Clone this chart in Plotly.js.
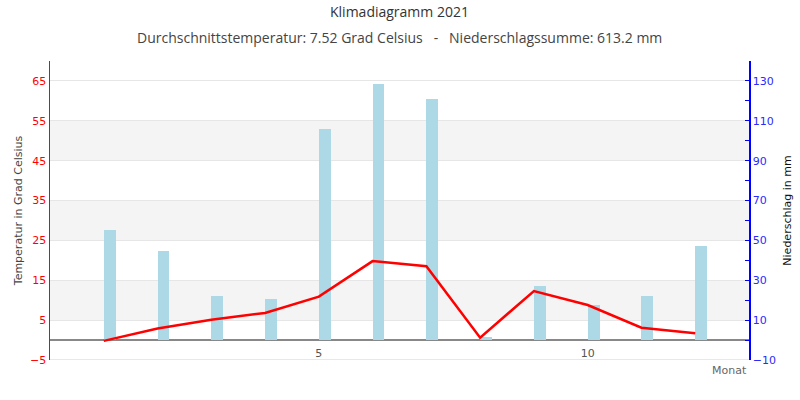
<!DOCTYPE html>
<html>
<head>
<meta charset="utf-8">
<script src="https://cdn.plot.ly/plotly-3.0.1.min.js"></script>
<style>html,body{margin:0;padding:0;background:#fff}#chart{width:800px;height:400px}</style>
</head>
<body>
<div id="chart"></div>
<script>
const months = [1, 2, 3, 4, 5, 6, 7, 8, 9, 10, 11, 12];
const temperature = [-0.2, 2.9, 5.1, 6.8, 10.9, 19.8, 18.5, 0.6, 12.3, 8.8, 3.1, 1.7];
const precipitation = [55.2, 44.6, 22.1, 20.6, 105.8, 128.7, 120.9, 1.5, 27.1, 17.6, 22.1, 47.0];
const xTickVals = [5, 10];
const tempRange = [-5, 70];
const precipRange = [-10, 140];
const tempBands = [[5, 15], [25, 35], [45, 55]];
const titleText = 'Klimadiagramm 2021';
const subtitleText = 'Durchschnittstemperatur: 7.52 Grad Celsius\u00a0\u00a0\u00a0-\u00a0\u00a0\u00a0Niederschlagssumme: 613.2 mm';

const baseFont = 'DejaVu Sans, sans-serif';

const traces = [
  {
    type: 'bar',
    x: months,
    y: precipitation,
    yaxis: 'y',
    width: 0.22,
    offset: 0,
    marker: {color: '#add8e6'},
    hoverinfo: 'x+y',
    name: 'Niederschlag'
  },
  {
    type: 'scatter',
    mode: 'lines',
    x: months,
    y: temperature,
    yaxis: 'y2',
    line: {color: '#ff0000', width: 2.5},
    name: 'Temperatur'
  }
];

const shapes = tempBands.map(b => ({
  type: 'rect', xref: 'paper', yref: 'y2',
  x0: 0, x1: 1, y0: b[0], y1: b[1],
  fillcolor: '#f4f4f4', line: {width: 0}, layer: 'below'
}));
shapes.push({
  type: 'line', xref: 'paper', yref: 'y2',
  x0: 0, x1: 1, y0: tempRange[0], y1: tempRange[0],
  line: {color: '#e0e0e0', width: 1.5}, layer: 'below'
});

const layout = {
  width: 800, height: 400,
  margin: {l: 50, r: 51, t: 61, b: 40},
  paper_bgcolor: '#ffffff',
  plot_bgcolor: '#ffffff',
  showlegend: false,
  font: {family: baseFont, size: 11, color: '#333'},
  bargap: 0,
  shapes: shapes,
  xaxis: {
    range: [0, 13],
    tickvals: xTickVals,
    ticktext: xTickVals.map(String),
    showgrid: false, zeroline: false, showline: false,
    ticks: '',
    ticklabelstandoff: 5,
    anchor: 'free', position: (0 - tempRange[0]) / (tempRange[1] - tempRange[0]),
    tickfont: {family: baseFont, size: 11, color: '#555'},
    fixedrange: true
  },
  yaxis: {
    range: precipRange,
    side: 'right',
    tick0: -10, dtick: 20,
    showgrid: true, gridcolor: '#e6e6e6', gridwidth: 1,
    zeroline: false,
    showline: true, linecolor: '#0000ff', linewidth: 1.5,
    ticks: 'inside', ticklen: 4, tickcolor: '#0000ff', tickwidth: 1,
    minor: {dtick: 10, tick0: -10, ticks: 'inside', ticklen: 4, tickcolor: '#0000ff', showgrid: false},
    tickfont: {family: baseFont, size: 11, color: '#2a2aff'},
    title: {text: 'Niederschlag in mm', font: {family: baseFont, size: 11, color: '#111'}, standoff: 8},
    fixedrange: true
  },
  yaxis2: {
    range: tempRange,
    overlaying: 'y',
    side: 'left',
    tick0: -5, dtick: 10,
    showgrid: false,
    zeroline: true, zerolinecolor: '#888888', zerolinewidth: 1.5,
    showline: true, linecolor: '#ff0000', linewidth: 1.5,
    ticks: '',
    tickfont: {family: baseFont, size: 11, color: '#ff0000'},
    title: {text: 'Temperatur in Grad Celsius', font: {family: baseFont, size: 11, color: '#444'}, standoff: 5},
    fixedrange: true
  },
  annotations: [
    {text: titleText, xref: 'paper', yref: 'paper', x: 0.5, y: 1, yanchor: 'middle', yshift: 50,
     showarrow: false, font: {family: 'Open Sans, sans-serif', size: 14, color: '#333'}},
    {text: subtitleText, xref: 'paper', yref: 'paper', x: 0.5, y: 1, yanchor: 'middle', yshift: 24,
     showarrow: false, font: {family: 'Open Sans, sans-serif', size: 14, color: '#444'}},
    {text: 'Monat', xref: 'paper', yref: 'paper', x: 1, y: 0, xanchor: 'right', yanchor: 'top', yshift: -2,
     showarrow: false, font: {family: baseFont, size: 11, color: '#666'}}
  ]
};

Plotly.newPlot('chart', traces, layout, {displayModeBar: false, staticPlot: true});
</script>
</body>
</html>
